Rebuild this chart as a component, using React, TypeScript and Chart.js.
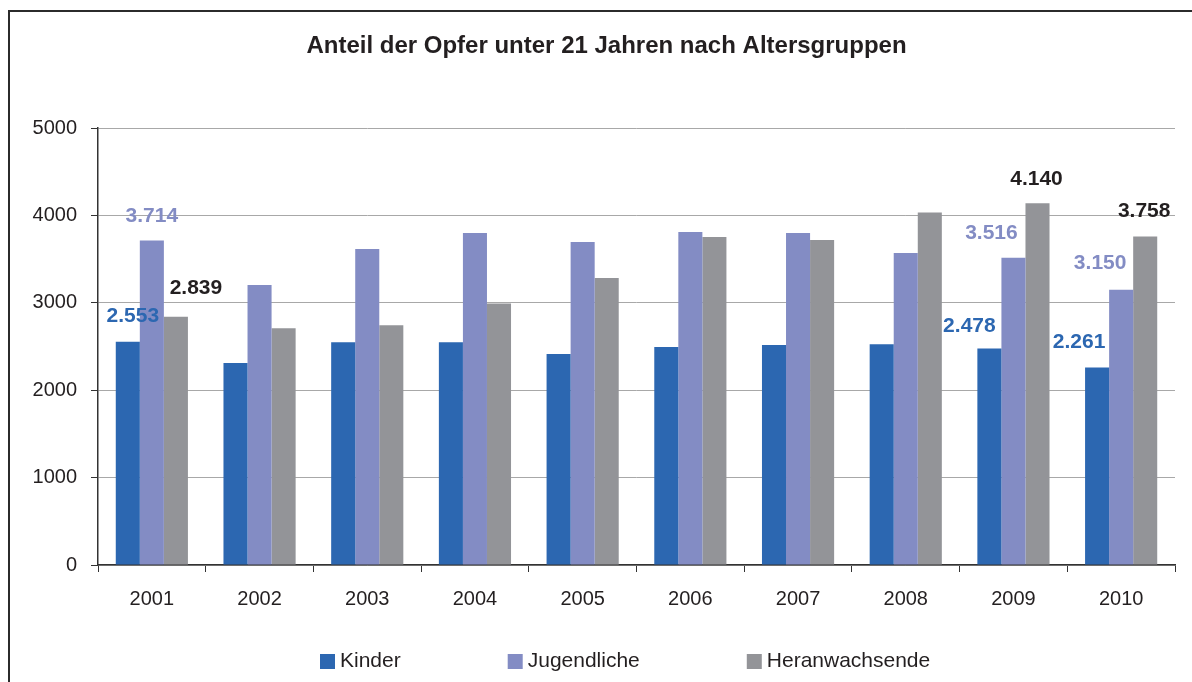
import React, { useEffect, useRef } from "react";
import { Chart, registerables } from "chart.js";

Chart.register(...registerables);

const TITLE = "Anteil der Opfer unter 21 Jahren nach Altersgruppen";
const YEARS = ["2001", "2002", "2003", "2004", "2005", "2006", "2007", "2008", "2009", "2010"];
const SERIES_NAMES = ["Kinder", "Jugendliche", "Heranwachsende"];
const KINDER = [2553, 2310, 2550, 2550, 2413, 2493, 2516, 2527, 2478, 2261];
const JUGENDLICHE = [3714, 3203, 3616, 3799, 3696, 3811, 3799, 3570, 3516, 3150];
const HERANWACHSENDE = [2839, 2710, 2744, 2993, 3283, 3753, 3719, 4034, 4140, 3758];
const Y_TICKS = [0, 1000, 2000, 3000, 4000, 5000];
const LABELLED_YEARS = ["2001", "2009", "2010"];

const BAR_COLORS = ["#2C67B1", "#838CC4", "#939498"];
const LABEL_COLORS = ["#2C67B1", "#838CC4", "#231F20"];
// per series, per labelled year: [dx, dy above bar top] (layout only)
const LABEL_OFFSETS = [
  [[5, 26], [-20, 22], [-18, 25]],
  [[0, 24], [-22, 24], [-21, 26]],
  [[20, 29], [-1, 24], [-1, 25]],
];

const FONT = "'Liberation Sans', Arial, Helvetica, sans-serif";
const TEXT = "#231F20";

function fmtDE(n: number): string {
  return String(Math.round(n)).replace(/\B(?=(\d{3})+(?!\d))/g, ".");
}

const framePlugin = {
  id: "frame",
  beforeDraw(chart: any) {
    const ctx = chart.ctx;
    ctx.save();
    ctx.fillStyle = "#ffffff";
    ctx.fillRect(0, 0, chart.width, chart.height);
    ctx.strokeStyle = "#2b2b2b";
    ctx.lineWidth = 2;
    ctx.strokeRect(9, 11, 1400, 1000);
    ctx.restore();
  },
};

const titlePlugin = {
  id: "manualTitle",
  afterDraw(chart: any) {
    const ctx = chart.ctx;
    const area = chart.chartArea;
    ctx.save();
    ctx.font = `bold 24px ${FONT}`;
    ctx.fillStyle = TEXT;
    ctx.textAlign = "center";
    ctx.textBaseline = "alphabetic";
    ctx.fillText(TITLE, (area.left + area.right) / 2 - 30, 53);
    ctx.restore();
  },
};

const valueLabelPlugin = {
  id: "valueLabels",
  afterDatasetsDraw(chart: any) {
    const ctx = chart.ctx;
    ctx.save();
    ctx.font = `bold 21px ${FONT}`;
    ctx.textAlign = "center";
    ctx.textBaseline = "middle";
    chart.data.datasets.forEach((ds: any, di: number) => {
      const meta = chart.getDatasetMeta(di);
      LABELLED_YEARS.forEach((yr, li) => {
        const idx = YEARS.indexOf(yr);
        const el = meta.data[idx];
        if (!el) return;
        const [dx, dy] = LABEL_OFFSETS[di][li];
        ctx.fillStyle = LABEL_COLORS[di];
        ctx.fillText(fmtDE(ds.data[idx]), el.x + dx, el.y - dy);
      });
    });
    ctx.restore();
  },
};

const legendPlugin = {
  id: "customLegend",
  afterDraw(chart: any) {
    const ctx = chart.ctx;
    const area = chart.chartArea;
    ctx.save();
    ctx.font = `21px ${FONT}`;
    ctx.textBaseline = "alphabetic";
    ctx.textAlign = "left";
    const box = 15;
    const gapText = 5;
    const gapItem = 107;
    const baseline = 667;
    let x = area.left + 222;
    chart.data.datasets.forEach((ds: any) => {
      ctx.fillStyle = ds.backgroundColor;
      ctx.fillRect(x, baseline - 13, box, box);
      x += box + gapText;
      ctx.fillStyle = TEXT;
      ctx.fillText(ds.label, x, baseline);
      x += ctx.measureText(ds.label).width + gapItem;
    });
    ctx.restore();
  },
};

export default function App() {
  const canvasRef = useRef<HTMLCanvasElement | null>(null);

  useEffect(() => {
    const canvas = canvasRef.current;
    if (!canvas) return;
    const seriesData = [KINDER, JUGENDLICHE, HERANWACHSENDE];
    const chart = new Chart(canvas, {
      type: "bar",
      data: {
        labels: YEARS,
        datasets: SERIES_NAMES.map((name, i) => ({
          label: name,
          data: seriesData[i],
          backgroundColor: BAR_COLORS[i],
          borderWidth: 0,
          categoryPercentage: 0.67,
          barPercentage: 1.0,
        })),
      },
      options: {
        responsive: false,
        animation: false,
        devicePixelRatio: 1,
        layout: { padding: { left: 0, right: 17, top: 128, bottom: 0 } },
        plugins: {
          legend: { display: false },
          tooltip: { enabled: false },
          title: { display: false },
        },
        scales: {
          x: {
            offset: true,
            grid: {
              display: true,
              drawOnChartArea: false,
              drawTicks: true,
              tickLength: 7,
              tickColor: "#333333",
              offset: true,
            },
            border: { color: "#333333", width: 1.5 },
            ticks: { color: TEXT, font: { family: FONT, size: 20 }, padding: 15 },
            afterFit(scale: any) {
              scale.height = 117;
            },
          },
          y: {
            min: 0,
            max: 5000,
            afterBuildTicks(scale: any) {
              scale.ticks = Y_TICKS.map((v) => ({ value: v }));
            },
            grid: {
              color: "#a8a8a8",
              lineWidth: 1,
              tickLength: 7,
              tickColor: "#333333",
            },
            border: { color: "#333333", width: 1.5 },
            ticks: {
              color: TEXT,
              font: { family: FONT, size: 20 },
              padding: 14,
              callback: (v: any) => String(v),
            },
            afterFit(scale: any) {
              scale.width = 98;
            },
          },
        },
      },
      plugins: [framePlugin, titlePlugin, valueLabelPlugin, legendPlugin],
    } as any);
    return () => chart.destroy();
  }, []);

  return (
    <div style={{ position: "fixed", left: 0, top: 0, width: 1192, height: 682, overflow: "hidden", background: "#fff" }}>
      <canvas ref={canvasRef} width={1192} height={682} style={{ width: 1192, height: 682, display: "block" }} />
    </div>
  );
}
